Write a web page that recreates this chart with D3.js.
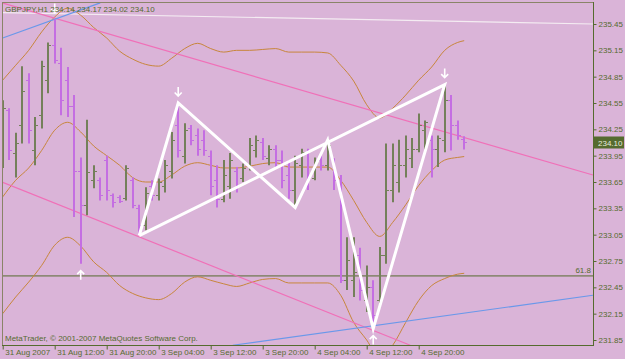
<!DOCTYPE html>
<html>
<head>
<meta charset="utf-8">
<script src="https://cdn.jsdelivr.net/npm/d3@7"></script>
<style>
  body { margin: 0; background: #dab4d8; }
  svg { display: block; }
  text { font-family: "Liberation Sans", Arial, sans-serif; }
</style>
</head>
<body>
<svg id="chart" width="625" height="359"></svg>
<script>
// GBPJPY H1 bars, 31 Aug 2007 -> 4 Sep 2007
const opens  = [233.90,234.47,233.98,234.30,234.81,234.01,234.41,234.81,235.21,235.01,234.81,234.52,233.78,233.39,233.67,233.67,233.90,233.50,233.48,233.47,233.67,233.35,233.16,233.61,233.50,233.61,233.78,234.30,233.95,234.26,234.18,234.13,233.95,233.67,233.46,233.61,233.78,233.69,233.84,234.01,234.10,233.92,234.03,233.90,233.73,233.56,233.84,233.99,233.69,233.90,233.84,233.90,233.61,232.53,232.53,232.82,232.30,232.45,232.30,232.82,233.56,233.65,233.84,233.92,234.03,234.24,234.13,234.03,234.13,234.58,234.30,234.14];
const highs  = [234.58,234.49,234.21,234.97,234.89,234.39,235.03,235.24,235.50,235.18,234.96,234.64,233.93,234.36,233.84,233.70,233.95,233.52,233.50,233.84,233.70,233.39,233.59,233.67,233.69,233.90,234.22,234.53,234.32,234.30,234.26,234.24,234.01,233.84,233.90,233.98,233.82,233.86,234.15,234.18,234.15,234.07,234.07,234.01,233.90,233.95,234.03,234.03,233.93,233.99,234.15,233.92,233.73,233.02,233.02,232.90,232.70,232.53,232.91,234.09,234.09,234.13,234.18,234.15,234.43,234.35,234.18,234.18,234.74,234.64,234.35,234.17];
const lows   = [233.81,233.90,233.70,234.09,234.09,233.84,234.26,234.66,235.00,234.41,234.39,233.25,232.72,233.27,233.58,233.44,233.44,233.36,233.41,233.44,233.35,233.05,233.10,233.44,233.44,233.53,233.69,233.93,233.86,234.07,233.95,233.95,233.50,233.36,233.42,233.46,233.53,233.65,233.78,233.93,233.90,233.84,233.81,233.58,233.46,233.36,233.70,233.56,233.67,233.78,233.78,233.56,232.50,232.42,232.34,232.30,232.17,231.98,232.22,232.72,233.42,233.53,233.70,233.81,233.99,234.01,233.70,233.82,233.99,234.01,234.13,234.02];
const closes = [234.49,234.01,234.09,234.69,234.24,234.30,234.97,235.21,235.04,234.58,234.52,233.78,233.39,233.76,233.78,233.50,233.56,233.42,233.43,233.81,233.39,233.16,233.53,233.50,233.65,233.84,234.13,234.01,234.24,234.13,234.03,234.01,233.61,233.46,233.73,233.90,233.61,233.81,234.07,234.13,233.95,234.03,233.90,233.67,233.56,233.87,233.99,233.69,233.87,233.84,234.07,233.67,232.53,232.76,232.62,232.42,232.45,232.13,232.82,233.56,233.84,233.84,234.03,234.03,234.30,234.33,234.03,234.15,234.58,234.30,234.18,234.10];

// Bollinger bands sampled every second bar
const bandIdx   = [0,2,4,6,8,10,12,14,16,18,20,22,24,26,28,30,32,34,36,38,40,42,44,46,48,50,52,54,56,58,60,62,64,66,68,70,71];
const bandUpper = [234.81,234.98,235.15,235.36,235.53,235.63,235.55,235.41,235.29,235.14,235.05,234.99,234.97,235.06,235.17,235.23,235.17,235.13,235.15,235.15,235.16,235.17,235.13,235.13,235.13,235.12,234.98,234.80,234.53,234.38,234.49,234.64,234.81,234.96,235.15,235.24,235.26];
const bandMid   = [233.48,233.67,233.81,234.01,234.24,234.33,234.22,234.06,233.95,233.84,233.70,233.65,233.65,233.73,233.83,233.87,233.84,233.81,233.81,233.83,233.86,233.87,233.82,233.82,233.82,233.82,233.67,233.44,233.19,233.03,233.19,233.39,233.61,233.78,233.90,233.93,233.94];
const bandLower = [232.15,232.34,232.51,232.70,232.93,233.02,232.92,232.74,232.62,232.47,232.38,232.33,232.31,232.38,232.51,232.57,232.53,232.49,232.46,232.50,232.54,232.55,232.50,232.50,232.50,232.50,232.36,232.05,231.85,231.64,231.79,232.05,232.30,232.47,232.55,232.60,232.61];

// zigzag pattern (bar index, price)
const patternIdx   = [21, 27, 45, 50, 57, 68, 21];
const patternPrice = [233.04, 234.55, 233.36, 234.13, 231.98, 234.76, 233.04];

// drawn objects: trend lines as two (bar index, price) points
const pinkLines = [
  [[-0.1, 235.69], [90.8, 233.73]],
  [[-0.1, 233.65], [62.7, 231.79]],
  [[21, 233.04], [68, 234.76]]
];
const blueLines = [
  [[0, 235.29], [15, 235.69]],
  [[35.4, 231.79], [90.8, 232.36]]
];
const whiteLine = [[-0.1, 235.58], [90.8, 235.45]];
const fiboLevel = 232.58;
const fiboLabel = "61.8";

// fractal arrows
const arrowIdx   = [8, 27, 68, 12, 57];
const arrowPrice = [235.50, 234.55, 234.76, 232.72, 231.98];
const arrowDir   = ["down", "down", "down", "up", "up"];

// axes
const priceTicks = [235.45,235.15,234.85,234.55,234.25,233.95,233.65,233.35,233.05,232.75,232.45,232.15,231.85];
const timeTickIdx = [0, 8, 16, 24, 32, 40, 48, 56, 64];
const timeLabels = ["31 Aug 2007","31 Aug 12:00","31 Aug 20:00","3 Sep 04:00","3 Sep 12:00","3 Sep 20:00","4 Sep 04:00","4 Sep 12:00","4 Sep 20:00"];
const lastPrice = 234.10;
const title = "GBPJPY,H1  234.14 234.17 234.02 234.10";

const fg = "#556b2f", upColor = "#74805a", downColor = "#c46ee2";
const plotL = 2, plotR = 594, plotT = 2, plotB = 346;

const svg = d3.select("#chart");
const x = d3.scaleLinear().domain([0, 71]).range([2.7, 464.2]);
const y = d3.scaleLinear().domain([231.85, 235.45]).range([340, 24]);

svg.append("rect").attr("width", 625).attr("height", 359).attr("fill", "#dab4d8");

svg.append("clipPath").attr("id", "plot")
  .append("rect").attr("x", plotL).attr("y", plotT).attr("width", plotR - plotL).attr("height", plotB - plotT);

const g = svg.append("g").attr("clip-path", "url(#plot)");

// white line at the top
const line2 = d3.line().x(d => x(d[0])).y(d => y(d[1]));
g.append("path").attr("d", line2(whiteLine)).attr("stroke", "#f4ecf2").attr("stroke-width", 1.2).attr("fill", "none");

// fibo level
g.append("line").attr("x1", plotL).attr("x2", plotR).attr("y1", y(fiboLevel)).attr("y2", y(fiboLevel))
  .attr("stroke", fg).attr("stroke-width", 1);

// bollinger bands
const bandLine = d3.line().x(d => x(d[0])).y(d => y(d[1])).curve(d3.curveMonotoneX);
[bandUpper, bandMid, bandLower].forEach(b => {
  g.append("path").attr("d", bandLine(bandIdx.map((i, k) => [i, b[k]])))
    .attr("fill", "none").attr("stroke", "#c8863c").attr("stroke-width", 1);
});

// trend lines
pinkLines.forEach(l => g.append("path").attr("d", line2(l)).attr("stroke", "#f070b8").attr("stroke-width", 1.2).attr("fill", "none"));
blueLines.forEach(l => g.append("path").attr("d", line2(l)).attr("stroke", "#6a98ea").attr("stroke-width", 1.2).attr("fill", "none"));

// bars
const bars = g.append("g");
opens.forEach((o, i) => {
  const cx = Math.round(x(i));
  const col = closes[i] >= o ? upColor : downColor;
  bars.append("line").attr("x1", cx).attr("x2", cx).attr("y1", y(highs[i])).attr("y2", y(lows[i]))
    .attr("stroke", col).attr("stroke-width", 2);
  bars.append("line").attr("x1", cx - 3).attr("x2", cx).attr("y1", Math.round(y(o)) + 0.5).attr("y2", Math.round(y(o)) + 0.5)
    .attr("stroke", col).attr("stroke-width", 1);
  bars.append("line").attr("x1", cx).attr("x2", cx + 3).attr("y1", Math.round(y(closes[i])) + 0.5).attr("y2", Math.round(y(closes[i])) + 0.5)
    .attr("stroke", col).attr("stroke-width", 1);
});

// zigzag pattern
g.append("path").attr("d", line2(patternIdx.map((i, k) => [i, patternPrice[k]])))
  .attr("fill", "none").attr("stroke", "#ffffff").attr("stroke-width", 3).attr("stroke-linejoin", "miter");

// arrows
arrowIdx.forEach((i, k) => {
  const ax = x(i), down = arrowDir[k] === "down";
  const tip = down ? y(arrowPrice[k]) - 7 : y(arrowPrice[k]) + 7;
  const s = down ? -1 : 1;
  g.append("path")
    .attr("d", `M${ax},${tip + s * 9}V${tip}M${ax - 3.5},${tip + s * 3.5}L${ax},${tip}L${ax + 3.5},${tip + s * 3.5}`)
    .attr("stroke", "#ffffff").attr("stroke-width", 1.6).attr("fill", "none");
});

// fibo label
svg.append("text").attr("x", 591).attr("y", y(fiboLevel) - 3).attr("text-anchor", "end")
  .attr("font-size", 8).attr("fill", fg).text(fiboLabel);

// frame
svg.append("rect").attr("x", plotL + 0.5).attr("y", plotT + 0.5).attr("width", plotR - plotL - 1).attr("height", plotB - plotT - 1)
  .attr("fill", "none").attr("stroke", "#8a8468").attr("stroke-width", 1);

// right axis
const yAxis = d3.axisRight(y).tickValues(priceTicks).tickFormat(d3.format(".2f")).tickSize(3).tickPadding(2);
const ya = svg.append("g").attr("transform", `translate(${plotR - 0.5},0)`).call(yAxis);
ya.select(".domain").attr("stroke", fg).attr("d", `M0,${plotT}V${plotB}`);
ya.selectAll(".tick line").attr("stroke", fg);
ya.selectAll("text").attr("fill", fg).attr("font-size", 8).attr("font-family", "Liberation Sans, Arial, sans-serif");

// current price box
svg.append("rect").attr("x", plotR).attr("y", y(lastPrice) - 6).attr("width", 30).attr("height", 12).attr("fill", fg);
svg.append("text").attr("x", plotR + 4).attr("y", y(lastPrice) + 3).attr("font-size", 8).attr("fill", "#e8eadc").text(lastPrice.toFixed(2));

// bottom axis
const xAxis = d3.axisBottom(x).tickValues(timeTickIdx).tickFormat((d, k) => timeLabels[k]).tickSize(4);
const xa = svg.append("g").attr("transform", `translate(0,${plotB - 0.5})`).call(xAxis);
xa.select(".domain").attr("stroke", fg).attr("d", `M${plotL},0H${plotR}`);
xa.selectAll(".tick line").attr("stroke", fg);
xa.selectAll("text").attr("fill", fg).attr("font-size", 8).attr("font-family", "Liberation Sans, Arial, sans-serif")
  .attr("text-anchor", "start").attr("dx", 2).attr("y", 4).attr("dy", "0.71em");

// title and copyright
svg.append("text").attr("x", 5).attr("y", 12).attr("font-size", 8).attr("fill", fg).text(title);
svg.append("text").attr("x", 5).attr("y", 341).attr("font-size", 8).attr("fill", fg).text("MetaTrader, \u00a9 2001-2007 MetaQuotes Software Corp.");
</script>
</body>
</html>
